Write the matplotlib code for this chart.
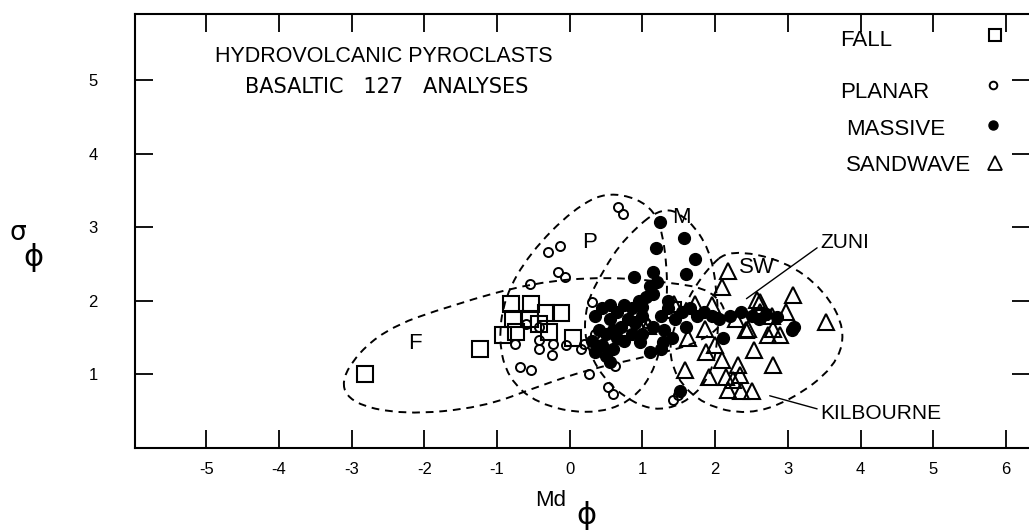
import matplotlib
matplotlib.use("Agg")
import matplotlib.pyplot as plt
import numpy as np
from matplotlib.path import Path
from matplotlib.patches import PathPatch

plt.rcParams["font.family"] = ["Liberation Sans", "DejaVu Sans"]

# --- data (Md phi, sigma phi) ---
fall_x = [-2.81, -1.24, -0.81, -0.53, -0.78, -0.33, -0.12, -0.92, -0.74, -0.55, -0.42, -0.28, 0.04, 1.42]
fall_y = [1.00, 1.35, 1.96, 1.96, 1.76, 1.83, 1.83, 1.53, 1.58, 1.76, 1.69, 1.58, 1.49, 1.87]

planar_x = [-0.30, -0.14, -0.16, -0.07, -0.55, 0.66, 0.73, 0.30, -0.76, -0.42, -0.23, -0.42, -0.25,
            -0.60, -0.42, -0.69, -0.53, 0.27, 0.52, 0.60, 1.42, 1.49, 0.20, 0.35, 0.55, 0.45,
            0.75, 0.90, 1.05, 0.15, -0.05, 0.62]
planar_y = [2.66, 2.75, 2.39, 2.32, 2.23, 3.27, 3.18, 1.99, 1.42, 1.47, 1.42, 1.35, 1.26,
            1.69, 1.65, 1.10, 1.06, 1.01, 0.83, 0.74, 0.65, 0.72, 1.42, 1.55, 1.75, 1.40,
            1.55, 1.85, 1.70, 1.35, 1.40, 1.12]

massive_x = [1.24, 1.57, 1.18, 1.72, 1.60, 0.89, 1.14, 3.09, 2.11, 0.96, 1.10, 0.55, 1.28, 1.51,
             0.35, 0.45, 0.55, 0.65, 0.75, 0.85, 0.95, 1.05, 1.15, 1.20, 1.10, 1.00, 0.90, 0.80,
             0.70, 0.60, 0.50, 0.40, 0.30, 0.45, 0.60, 0.75, 0.85, 1.00, 1.15, 1.25, 1.35, 1.45,
             1.55, 1.65, 1.75, 1.85, 1.95, 2.05, 2.20, 2.35, 2.50, 2.60, 2.70, 2.85, 0.35, 0.50,
             0.65, 1.30, 1.40, 1.60, 1.00, 0.55, 1.25, 1.35, 3.05]
massive_y = [3.07, 2.85, 2.72, 2.57, 2.37, 2.32, 2.39, 1.65, 1.49, 1.44, 1.31, 1.17, 1.44, 0.77,
             1.80, 1.90, 1.95, 1.85, 1.95, 1.90, 2.00, 2.05, 2.10, 2.25, 2.20, 1.80, 1.70, 1.75,
             1.65, 1.60, 1.55, 1.60, 1.45, 1.40, 1.35, 1.45, 1.55, 1.55, 1.65, 1.80, 1.90, 1.75,
             1.85, 1.90, 1.80, 1.85, 1.80, 1.75, 1.80, 1.85, 1.80, 1.75, 1.82, 1.78, 1.30, 1.25,
             1.50, 1.60, 1.50, 1.65, 1.92, 1.75, 1.35, 2.00, 1.60]

sandwave_x = [2.18, 2.09, 3.07, 3.53, 2.98, 2.57, 1.72, 1.95, 1.44, 1.01, 1.86, 2.45, 2.73, 2.89,
              2.80, 1.63, 2.54, 2.80, 2.09, 2.31, 1.88, 1.58, 1.92, 2.15, 2.34, 2.18, 2.36, 2.50,
              2.43, 2.61, 2.78, 2.28, 2.00, 1.08, 2.25, 2.62]
sandwave_y = [2.41, 2.19, 2.08, 1.71, 1.85, 2.01, 1.96, 1.94, 1.96, 1.67, 1.62, 1.62, 1.53, 1.53,
              1.62, 1.49, 1.33, 1.13, 1.19, 1.13, 1.31, 1.06, 0.97, 0.97, 0.99, 0.79, 0.77, 0.77,
              1.60, 1.99, 1.80, 1.75, 1.40, 1.66, 0.92, 1.85]

# hand-drawn field outlines (control points)
env_F_x = [-3.15, -2.6, -1.6, -0.5, 0.5, 1.4, 1.95, 2.2, 1.85, 1.1, 0.3, -0.4, -1.2, -2.3, -3.05]
env_F_y = [1.00, 1.60, 1.95, 2.25, 2.33, 2.25, 2.15, 1.80, 1.45, 1.25, 1.08, 0.85, 0.55, 0.45, 0.62]
env_P_x = [0.55, 0.05, -0.55, -0.90, -0.98, -0.85, -0.45, 0.25, 0.85, 1.20, 1.35, 1.32, 1.15]
env_P_y = [3.50, 3.25, 2.65, 2.05, 1.45, 0.95, 0.60, 0.45, 0.62, 1.10, 1.90, 2.75, 3.30]
env_M_x = [1.28, 1.65, 1.92, 2.02, 2.05, 1.95, 1.65, 1.25, 0.85, 0.45, 0.20, 0.22, 0.45, 0.75]
env_M_y = [3.30, 3.10, 2.70, 2.20, 1.55, 1.00, 0.65, 0.50, 0.62, 0.95, 1.45, 1.95, 2.40, 2.85]
env_SW_x = [2.20, 2.95, 3.50, 3.80, 3.65, 3.05, 2.45, 1.85, 1.45, 1.35, 1.60, 1.90]
env_SW_y = [2.70, 2.55, 2.15, 1.60, 1.10, 0.65, 0.45, 0.58, 0.95, 1.45, 2.00, 2.45]

xticks = [-5, -4, -3, -2, -1, 0, 1, 2, 3, 4, 5, 6]
xticklabels = ["-5", "-4", "-3", "-2", "-1", "0", "1", "2", "3", "4", "5", "6"]
yticks = [1, 2, 3, 4, 5]


def smooth_closed(xs, ys):
    pts = np.column_stack([xs, ys])
    mids = (pts + np.roll(pts, -1, axis=0)) / 2
    verts = [mids[-1]]
    codes = [Path.MOVETO]
    for p, m in zip(pts, mids):
        verts += [p, m]
        codes += [Path.CURVE3, Path.CURVE3]
    return Path(verts, codes)


fig = plt.figure(figsize=(10.29, 5.31), dpi=100)
ax = fig.add_axes([135 / 1029, 83 / 531, 895 / 1029, 434 / 531])

for ex, ey in [(env_F_x, env_F_y), (env_P_x, env_P_y), (env_M_x, env_M_y), (env_SW_x, env_SW_y)]:
    ax.add_patch(PathPatch(smooth_closed(ex, ey), fill=False, ec="black", lw=1.4,
                           ls=(0, (4, 3))))

ax.plot(fall_x, fall_y, ls="none", marker="s", ms=11.5, mfc="none", mec="black", mew=1.5)
ax.plot(planar_x, planar_y, ls="none", marker="o", ms=6.5, mfc="none", mec="black", mew=1.4)
ax.plot(massive_x, massive_y, ls="none", marker="o", ms=8.5, mfc="black", mec="black")
ax.plot(sandwave_x, sandwave_y, ls="none", marker="^", ms=11.5, mfc="none", mec="black", mew=1.5)

# field labels and leaders
ax.text(-2.13, 1.42, "F", fontsize=16, ha="center", va="center")
ax.text(0.27, 2.80, "P", fontsize=16, ha="center", va="center")
ax.text(1.54, 3.14, "M", fontsize=16, ha="center", va="center")
ax.text(2.57, 2.46, "SW", fontsize=16, ha="center", va="center")
ax.annotate("ZUNI", xy=(2.43, 2.03), xytext=(3.44, 2.80), fontsize=15, va="center",
            arrowprops=dict(arrowstyle="-", lw=1, color="black", shrinkA=0, shrinkB=0,
                            relpos=(0, 0.3)))
ax.annotate("KILBOURNE", xy=(2.75, 0.71), xytext=(3.44, 0.47), fontsize=15, va="center",
            arrowprops=dict(arrowstyle="-", lw=1, color="black", shrinkA=0, shrinkB=0,
                            relpos=(0, 0.7)))

# titles
ax.text(0.089, 0.901, "HYDROVOLCANIC PYROCLASTS", transform=ax.transAxes, fontsize=15.5,
        va="center")
ax.text(0.123, 0.832, "BASALTIC   127   ANALYSES", transform=ax.transAxes, fontsize=15,
        family="DejaVu Sans", va="center")

# key
key_labels = ["FALL", "PLANAR", "MASSIVE", "SANDWAVE"]
key_text_pos = [(0.788, 0.940), (0.788, 0.820), (0.794, 0.733), (0.794, 0.652)]
key_mark_pos = [(0.961, 0.952), (0.959, 0.836), (0.959, 0.744), (0.961, 0.657)]
key_styles = [dict(marker="s", ms=9, mfc="none", mew=1.5),
              dict(marker="o", ms=5.5, mfc="none", mew=1.4),
              dict(marker="o", ms=6.5, mfc="black"),
              dict(marker="^", ms=10, mfc="none", mew=1.3)]
for lab, (tx, ty), (mx, my), st in zip(key_labels, key_text_pos, key_mark_pos, key_styles):
    ax.text(tx, ty, lab, transform=ax.transAxes, fontsize=16, va="center")
    ax.plot([mx], [my], transform=ax.transAxes, ls="none", mec="black", clip_on=False, **st)

ax.set_xlim(-5.98, 6.33)
ax.set_ylim(0, 5.9)
ax.set_xticks(xticks)
ax.set_xticklabels(xticklabels)
ax.set_yticks(yticks)
for s in ax.spines.values():
    s.set_linewidth(1.5)
ax.spines["right"].set_visible(False)
ax.tick_params(axis="both", direction="in", length=13, width=1.3, labelsize=12,
               top=True, right=True)
ax.tick_params(axis="x", pad=10)
ax.tick_params(axis="y", pad=27)

# axis labels
fig.text(18 / 1029, 1 - 233 / 531, "σ", fontsize=19, ha="center", va="center", family="DejaVu Sans")
fig.text(33 / 1029, 1 - 258 / 531, "ϕ", fontsize=22, ha="center", va="center", family="DejaVu Sans")
fig.text(551 / 1029, 1 - 500 / 531, "Md", fontsize=16, ha="center", va="center")
fig.text(586 / 1029, 1 - 515 / 531, "ϕ", fontsize=22, ha="center", va="center", family="DejaVu Sans")

fig.savefig("out.png", dpi=100)
